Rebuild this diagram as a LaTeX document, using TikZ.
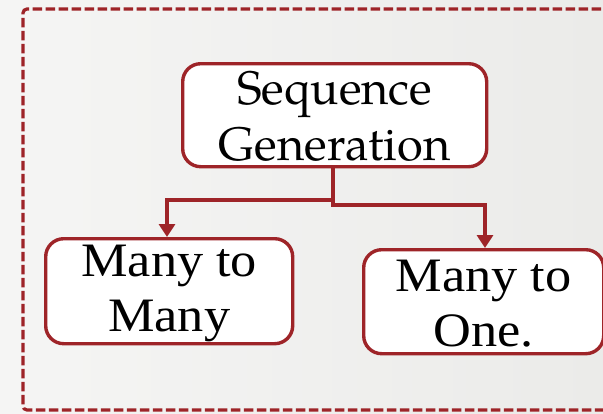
\documentclass[tikz,border=0pt]{standalone}
\usepackage{fontspec}
\setmainfont{Liberation Serif}
\newfontfamily\palafont{texgyrepagella-regular.otf}
\usetikzlibrary{arrows.meta}
\definecolor{frame}{HTML}{9E2428}
\definecolor{bgleft}{HTML}{F5F5F4}
\definecolor{bgright}{HTML}{EBEBE9}
\tikzset{
  box/.style={draw=frame, line width=3.4pt, fill=white, rounded corners=18pt},
  label/.style={align=center, text=black, inner sep=0pt},
  link/.style={draw=frame, line width=4pt, -{Triangle[width=16pt,length=13pt]}},
}
\begin{document}
\begin{tikzpicture}[x=1pt, y=-1pt]
  % page background
  \useasboundingbox (0,0) rectangle (603,413);
  \shade[left color=bgleft, right color=bgright] (0,0) rectangle (603,413);
  % dashed enclosure (runs off the right edge)
  \draw[frame, line width=3.2pt, dash pattern=on 9.5pt off 3.5pt, rounded corners=4pt]
    (640,9) -- (23,9) -- (23,410) -- (640,410);
  % boxes
  \node[box, minimum width=304pt, minimum height=103pt, anchor=north west] (top) at (181,62) {};
  \node[box, minimum width=247pt, minimum height=105pt, anchor=north west] (left) at (44,237) {};
  \node[box, minimum width=240pt, minimum height=104pt, anchor=north west] (right) at (362,248) {};
  % texts
  \node[label, font=\palafont\fontsize{47}{56}\selectfont] (toptxt) at ([yshift=-1pt]top.center) {Sequence\\Generation};
  \node[label, font=\addfontfeature{FakeStretch=1.09}\fontsize{48}{55}\selectfont] (lefttxt) at ([yshift=-2pt]left.center) {Many to\\Many};
  \node[label, font=\addfontfeature{FakeStretch=1.09}\fontsize{48}{55}\selectfont] (righttxt) at ([yshift=-2pt]right.center) {Many to\\One.};
  % connector bends
  \coordinate (split) at (333,200);
  \coordinate (lbend) at (167,200);
  \coordinate (rdrop) at (333,205);
  \coordinate (rbend) at (485,205);
  % connectors
  \draw[link] (top.south -| split) -- (split) -- (lbend) -- (left.north -| lbend);
  \draw[link] (top.south -| split) -- (rdrop) -- (rbend) -- (right.north -| rbend);
\end{tikzpicture}
\end{document}
